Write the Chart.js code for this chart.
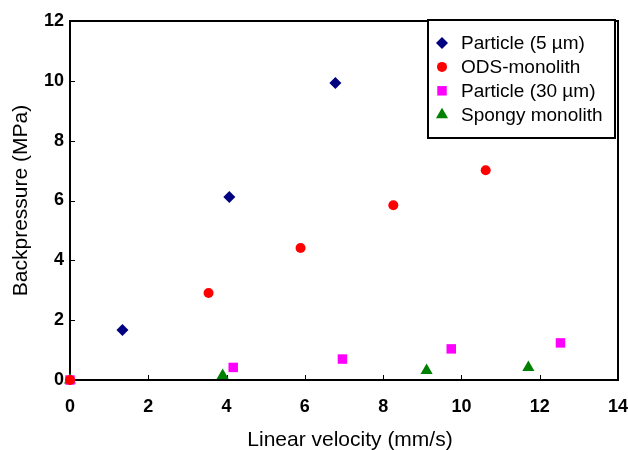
<!DOCTYPE html>
<html>
<head>
<meta charset="utf-8">
<script src="https://cdn.jsdelivr.net/npm/chart.js@4.4.1/dist/chart.umd.min.js"></script>
<style>
  html, body { margin: 0; padding: 0; background: #fff; }
  #wrap { width: 628px; height: 450px; }
</style>
</head>
<body>
<div id="wrap"><canvas id="chart" width="628" height="450"></canvas></div>
<script>
// values
const seriesNames = ['Particle (5 µm)', 'ODS-monolith', 'Particle (30 µm)', 'Spongy monolith'];
const particle5X = [1.34, 4.07, 6.78];
const particle5Y = [1.67, 6.12, 9.93];
const odsX = [0, 3.54, 5.89, 8.26, 10.62];
const odsY = [0, 2.91, 4.41, 5.84, 7.01];
const particle30X = [0, 4.17, 6.96, 9.74, 12.53];
const particle30Y = [0, 0.42, 0.70, 1.04, 1.24];
const spongyX = [0, 3.9, 9.11, 11.71];
const spongyY = [0, 0.15, 0.32, 0.42];
const xTicks = [0, 2, 4, 6, 8, 10, 12, 14];
const yTicks = [0, 2, 4, 6, 8, 10, 12];
const xTitle = 'Linear velocity (mm/s)';
const yTitle = 'Backpressure (MPa)';

const FONT = '"Liberation Sans", Arial, sans-serif';

function points(xs, ys) {
  return xs.map((x, i) => ({x: x, y: ys[i]}));
}

function series(label, xs, ys, color, style, radius) {
  return {
    label: label,
    data: points(xs, ys),
    backgroundColor: color,
    borderColor: color,
    borderWidth: 0,
    pointStyle: style,
    pointRadius: radius,
    pointHoverRadius: radius,
    clip: false
  };
}

// box around the plot area plus the short inward tick marks
const framePlugin = {
  id: 'frame',
  beforeDatasetsDraw(chart) {
    const {ctx, chartArea: a, scales} = chart;
    ctx.save();
    ctx.strokeStyle = '#000';
    ctx.lineWidth = 1;
    ctx.beginPath();
    xTicks.forEach(v => {
      const px = Math.round(scales.x.getPixelForValue(v)) + 0.5;
      ctx.moveTo(px, a.bottom);
      ctx.lineTo(px, a.bottom - 5);
    });
    yTicks.forEach(v => {
      const py = Math.round(scales.y.getPixelForValue(v)) + 0.5;
      ctx.moveTo(a.left, py);
      ctx.lineTo(a.left + 5, py);
    });
    ctx.stroke();
    ctx.lineWidth = 2;
    ctx.strokeRect(a.left, a.top, a.right - a.left, a.bottom - a.top);

    // x title sits a little right of the plot centre in the original
    ctx.fillStyle = '#000';
    ctx.font = '21px ' + FONT;
    ctx.textAlign = 'center';
    ctx.textBaseline = 'middle';
    ctx.fillText(xTitle, (a.left + a.right) / 2 + 6, 440);
    ctx.restore();
  }
};

// legend boxed inside the top right corner, like the original
const boxLegendPlugin = {
  id: 'boxLegend',
  afterDatasetsDraw(chart) {
    const {ctx, chartArea: a} = chart;
    const w = 187, h = 118;
    const x0 = a.right - 3 - w, y0 = a.top - 1;
    ctx.save();
    ctx.fillStyle = '#fff';
    ctx.fillRect(x0, y0, w, h);
    ctx.strokeStyle = '#000';
    ctx.lineWidth = 2;
    ctx.strokeRect(x0, y0, w, h);
    ctx.font = '19px ' + FONT;
    ctx.textBaseline = 'middle';
    chart.data.datasets.forEach((ds, i) => {
      const y = y0 + 23 + i * 23.9;
      ctx.fillStyle = ds.backgroundColor;
      ctx.strokeStyle = ds.borderColor;
      Chart.helpers.drawPoint(ctx, {
        pointStyle: ds.pointStyle,
        radius: ds.pointRadius,
        rotation: 0,
        borderWidth: 0
      }, x0 + 14, y);
      ctx.fillStyle = '#000';
      ctx.fillText(ds.label, x0 + 33, y + 1);
    });
    ctx.restore();
  }
};

new Chart(document.getElementById('chart'), {
  type: 'scatter',
  data: {
    datasets: [
      series(seriesNames[0], particle5X, particle5Y, '#000080', 'rectRot', 6),
      series(seriesNames[1], odsX, odsY, '#ff0000', 'circle', 5),
      series(seriesNames[2], particle30X, particle30Y, '#ff00ff', 'rect', 6.7),
      series(seriesNames[3], spongyX, spongyY, '#008000', 'triangle', 7)
    ]
  },
  options: {
    responsive: false,
    animation: false,
    devicePixelRatio: 1,
    layout: {padding: {top: 21, right: 10, left: 0, bottom: 0}},
    plugins: {
      legend: {display: false},
      tooltip: {enabled: false}
    },
    scales: {
      x: {
        type: 'linear',
        min: 0,
        max: 14,
        afterBuildTicks: s => { s.ticks = xTicks.map(v => ({value: v})); },
        afterFit: s => {
          s.height = 70;
          s.paddingLeft = 0;
          s.paddingRight = 0;
        },
        grid: {display: false, drawTicks: false},
        border: {display: false},
        ticks: {
          color: '#000',
          padding: 16,
          maxRotation: 0,
          font: {family: FONT, size: 18, weight: 'bold'}
        },
        title: {display: false}
      },
      y: {
        type: 'linear',
        min: 0,
        max: 12,
        afterBuildTicks: s => { s.ticks = yTicks.map(v => ({value: v})); },
        afterFit: s => {
          s.width = 70;
          s.paddingTop = 0;
          s.paddingBottom = 0;
        },
        grid: {display: false, drawTicks: false},
        border: {display: false},
        ticks: {
          color: '#000',
          padding: 6,
          font: {family: FONT, size: 18, weight: 'bold'}
        },
        title: {
          display: true,
          text: yTitle,
          color: '#000',
          padding: {top: 11, bottom: 0},
          font: {family: FONT, size: 21, lineHeight: 1}
        }
      }
    }
  },
  plugins: [framePlugin, boxLegendPlugin]
});
</script>
</body>
</html>
